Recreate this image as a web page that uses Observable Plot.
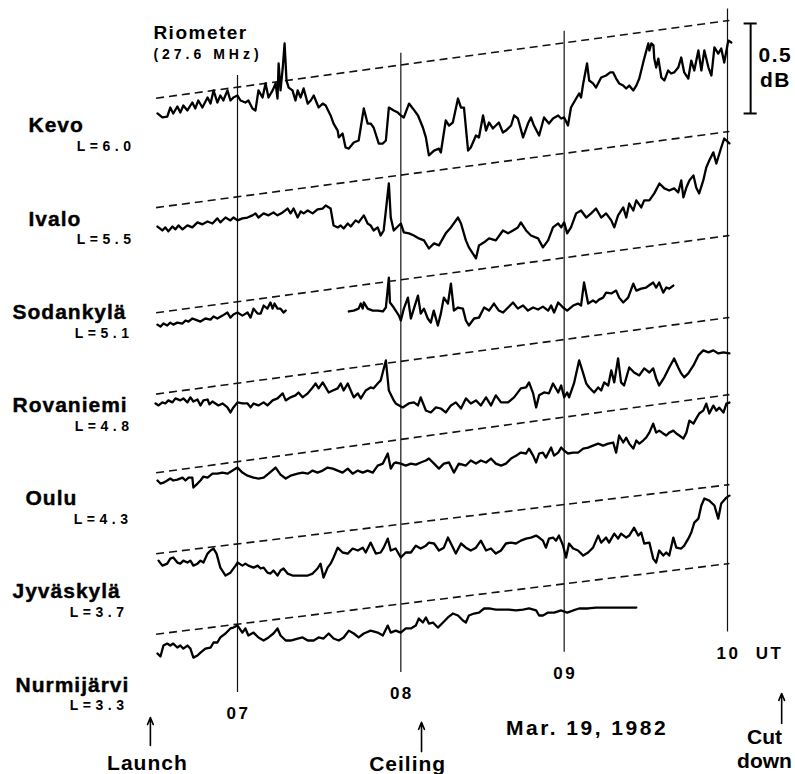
<!DOCTYPE html>
<html>
<head>
<meta charset="utf-8">
<script src="https://cdn.jsdelivr.net/npm/d3@7"></script>
<script src="https://cdn.jsdelivr.net/npm/@observablehq/plot@0.6"></script>
<style>
  html, body { margin: 0; padding: 0; background: #fff; }
  #chart svg { display: block; }
</style>
</head>
<body>
<div id="chart"></div>
<script>
// ================= DATA =================
// time: minutes after 06:00 UT ; value: dB, relative to the station's reference
// level at the start of the record (positive = downward on the chart)
const stations = ["Kevo", "Ivalo", "Sodankylä", "Rovaniemi", "Oulu", "Jyväskylä", "Nurmijärvi"];
const lShells = ["6.0", "5.5", "5.1", "4.8", "4.3", "3.7", "3.3"];

// quiet-day reference (dashed): spans these times, falls by quietDrop dB
const quietSpan = [30.6, 240.7];
const quietDrop = [-0.431, -0.422, -0.428, -0.425, -0.433, -0.383, -0.392];

const hourTicks = [60, 120, 180, 240];
const hourLabels = ["07", "08", "09", "10"];

const kevo = [
[30.6,0.086],[32.4,0.108],[34.2,0.103],[35.3,0.053],[36.4,0.086],[37.9,0.047],[39.0,0.081],[40.1,0.042],[41.6,0.069],[43.4,0.025],[44.5,0.058],[45.6,0.014],[47.1,0.053],[49.0,-0.003],[50.1,0.031],[51.2,-0.042],[52.6,0.025],[53.7,-0.014],[54.8,0.014],[56.3,-0.042],[57.4,0.014],[58.5,-0.003],[60.0,-0.014],[61.1,0.014],[62.9,0.025],[64.0,0.014],[65.5,0.058],[66.6,0.069],[67.7,-0.042],[69.2,-0.003],[70.3,-0.081],[71.4,-0.003],[72.9,-0.042],[74.0,-0.081],[74.7,0.003],[75.1,-0.192],[75.8,-0.042],[76.6,-0.164],[77.3,-0.303],[78.0,-0.097],[78.8,-0.058],[80.2,-0.042],[81.3,0.014],[82.1,-0.042],[83.2,-0.003],[84.3,-0.053],[85.8,0.031],[86.9,0.014],[88.0,-0.014],[89.8,0.053],[91.3,0.031],[92.4,0.042],[94.2,0.097],[95.3,0.142],[96.8,0.181],[97.2,0.219],[98.6,0.197],[99.7,0.275],[100.9,0.281],[102.7,0.247],[104.5,0.236],[106.4,0.058],[107.8,0.142],[108.9,0.142],[110.0,0.164],[111.9,0.253],[113.4,0.253],[114.5,0.236],[115.6,0.053],[117.4,0.069],[118.9,0.081],[120.0,0.097],[121.1,0.108],[123.0,0.031],[124.4,0.058],[126.3,0.097],[128.1,0.164],[129.2,0.219],[130.3,0.319],[132.2,0.292],[134.0,0.281],[134.7,0.303],[136.5,0.125],[137.7,0.153],[139.1,0.136],[141.0,0.003],[142.1,0.053],[143.2,0.053],[144.7,0.292],[145.7,0.275],[147.6,0.208],[148.7,0.219],[150.2,0.097],[151.3,0.181],[152.4,0.136],[153.8,0.169],[154.9,0.153],[156.0,0.136],[157.5,0.192],[158.6,0.181],[160.5,0.153],[161.6,0.097],[163.0,0.114],[164.9,0.219],[166.7,0.142],[167.8,0.108],[168.9,0.153],[170.8,0.208],[172.6,0.108],[174.4,0.142],[175.9,0.114],[177.8,0.097],[178.9,0.114],[180.0,0.108],[181.4,0.153],[182.5,0.053],[184.4,0.003],[185.5,-0.025],[186.2,-0.003],[187.0,-0.081],[188.4,-0.192],[189.2,-0.097],[190.6,-0.081],[191.7,-0.058],[193.6,-0.114],[195.4,-0.125],[196.9,-0.142],[198.0,-0.142],[199.1,-0.108],[200.2,-0.081],[201.7,-0.069],[202.8,-0.053],[203.9,-0.069],[205.4,-0.042],[206.5,-0.069],[207.6,-0.108],[209.4,-0.219],[210.9,-0.303],[211.3,-0.264],[212.0,-0.303],[212.8,-0.292],[213.1,-0.219],[213.8,-0.169],[214.6,-0.219],[215.7,-0.114],[216.8,-0.097],[218.2,-0.153],[219.3,-0.136],[220.4,-0.142],[221.9,-0.169],[223.0,-0.225],[224.1,-0.142],[225.6,-0.108],[226.7,-0.208],[227.8,-0.153],[229.3,-0.264],[230.4,-0.153],[231.5,-0.264],[233.0,-0.169],[234.1,-0.125],[235.2,-0.281],[236.6,-0.247],[237.7,-0.275],[238.8,-0.197],[240.3,-0.319],[241.4,-0.308]
];

const ivalo = [
[30.6,0.106],[32.4,0.128],[33.5,0.111],[34.6,0.133],[36.1,0.106],[37.2,0.122],[38.3,0.100],[39.8,0.122],[41.6,0.100],[43.4,0.111],[45.3,0.083],[47.1,0.094],[49.0,0.078],[50.8,0.089],[52.6,0.061],[53.7,0.083],[55.6,0.056],[57.4,0.072],[58.5,0.056],[60.0,0.072],[61.8,0.061],[63.7,0.056],[65.5,0.044],[66.6,0.033],[67.7,0.056],[69.6,0.033],[71.4,0.044],[73.2,0.028],[74.7,0.044],[76.6,0.028],[78.4,0.006],[79.5,0.033],[80.6,0.006],[82.1,0.056],[83.2,0.022],[84.3,0.033],[85.8,0.017],[87.6,0.033],[89.4,0.011],[91.3,0.006],[92.4,-0.011],[94.2,0.006],[95.3,0.100],[96.8,0.111],[97.9,0.100],[99.0,0.117],[100.5,0.089],[101.6,0.106],[103.4,0.072],[104.5,0.083],[106.4,0.044],[107.8,0.089],[108.9,0.100],[110.0,0.128],[111.5,0.111],[112.6,0.156],[113.7,0.128],[115.6,-0.133],[116.3,0.056],[117.4,0.128],[120.0,0.089],[121.1,0.139],[123.0,0.144],[124.8,0.156],[126.6,0.172],[128.5,0.183],[130.3,0.228],[132.2,0.200],[134.0,0.211],[136.5,0.144],[138.4,0.111],[141.0,0.056],[142.1,0.089],[143.9,0.183],[145.0,0.222],[147.6,0.283],[148.7,0.211],[150.6,0.194],[152.4,0.172],[154.9,0.183],[157.5,0.128],[159.4,0.144],[161.2,0.128],[163.0,0.111],[164.1,0.083],[166.0,0.128],[167.8,0.156],[170.4,0.172],[172.2,0.222],[174.1,0.183],[175.9,0.111],[177.8,0.089],[178.9,0.111],[180.0,0.083],[181.1,0.144],[182.5,0.111],[184.4,0.033],[186.2,0.017],[188.1,0.056],[189.9,0.033],[191.7,0.006],[193.6,0.056],[195.4,0.033],[197.3,0.072],[198.4,0.111],[199.8,0.044],[201.7,0.000],[202.8,0.056],[203.9,-0.022],[205.4,0.017],[206.5,-0.039],[208.3,0.000],[209.4,-0.039],[211.3,-0.039],[213.1,-0.078],[215.0,-0.133],[216.8,-0.106],[218.6,-0.094],[220.4,-0.106],[221.9,-0.083],[223.0,-0.150],[223.8,-0.056],[224.9,-0.111],[226.0,-0.150],[227.5,-0.178],[228.5,-0.111],[229.6,-0.078],[231.1,-0.150],[232.2,-0.222],[233.3,-0.261],[234.8,-0.306],[235.9,-0.244],[237.7,-0.333],[238.8,-0.383],[240.7,-0.356]
];

const sodankyla = [
[30.6,0.067],[31.7,0.078],[32.8,0.061],[34.2,0.072],[35.3,0.056],[36.4,0.067],[37.9,0.056],[39.8,0.061],[40.9,0.044],[42.0,0.050],[43.4,0.033],[44.5,0.039],[46.4,0.050],[48.2,0.033],[50.1,0.039],[51.2,0.022],[52.6,0.033],[54.5,0.017],[56.3,0.000],[57.4,0.028],[58.5,0.011],[60.0,0.000],[61.8,0.017],[63.7,0.000],[64.8,0.028],[65.9,-0.022],[67.4,0.006],[68.5,0.006],[69.6,-0.039],[71.0,-0.022],[72.1,-0.056],[72.9,-0.022],[73.6,-0.050],[74.7,-0.022],[75.8,-0.022],[76.9,0.000],[77.7,-0.011],
[89.0,null],
[100.9,-0.006],[102.7,-0.011],[104.5,-0.022],[105.3,-0.050],[106.0,-0.022],[106.4,-0.056],[107.8,-0.022],[109.7,-0.011],[111.5,-0.011],[113.4,-0.006],[114.5,-0.028],[115.6,-0.194],[116.0,-0.056],[117.4,-0.028],[119.3,0.017],[120.0,0.044],[121.1,-0.022],[122.6,-0.083],[123.7,0.033],[124.8,-0.022],[126.3,-0.094],[127.3,0.006],[128.5,-0.022],[129.9,0.033],[131.0,0.056],[132.1,-0.011],[133.6,0.072],[134.7,0.006],[135.8,-0.083],[137.3,-0.050],[138.4,-0.161],[139.5,-0.011],[141.0,-0.028],[142.8,-0.022],[143.9,0.044],[145.0,0.072],[146.9,0.033],[148.7,0.028],[150.6,-0.028],[152.4,-0.011],[154.2,-0.050],[156.0,-0.011],[157.5,0.000],[159.4,-0.028],[161.2,-0.056],[163.0,-0.022],[164.9,-0.039],[166.7,-0.011],[168.6,-0.028],[170.4,-0.017],[172.2,-0.033],[174.1,-0.011],[175.2,-0.039],[176.3,0.000],[177.8,-0.056],[179.6,-0.028],[181.1,-0.011],[183.3,-0.039],[185.1,-0.050],[186.2,-0.039],[187.3,-0.167],[188.8,-0.050],[190.6,-0.067],[191.7,-0.056],[192.8,-0.072],[194.3,-0.083],[195.4,-0.111],[197.3,-0.106],[199.1,-0.122],[200.2,-0.083],[201.7,-0.056],[203.5,-0.083],[205.4,-0.161],[206.5,-0.122],[208.3,-0.133],[210.1,-0.139],[212.7,-0.167],[213.8,-0.139],[214.9,-0.167],[216.4,-0.111],[217.5,-0.139],[218.6,-0.133],[220.1,-0.150]
];

const rovaniemi = [
[29.9,0.053],[31.0,0.064],[32.4,0.047],[33.5,0.053],[34.6,0.036],[36.1,0.047],[37.2,0.025],[39.0,0.036],[40.1,0.025],[41.6,0.047],[42.7,0.019],[43.8,0.042],[45.3,0.031],[46.4,0.064],[47.5,0.036],[49.0,0.031],[49.7,0.058],[50.8,0.042],[51.9,0.053],[53.0,0.064],[54.5,0.053],[56.3,0.075],[57.4,0.103],[58.5,0.075],[60.0,0.047],[61.8,0.053],[63.7,0.053],[64.8,0.075],[65.9,0.053],[67.7,0.064],[69.6,0.047],[71.0,0.064],[72.9,0.036],[74.7,0.025],[76.6,-0.003],[77.7,0.036],[79.5,0.019],[81.3,0.008],[82.4,-0.008],[83.9,0.019],[85.8,-0.003],[87.6,-0.036],[88.7,-0.058],[89.8,-0.031],[91.3,-0.064],[92.4,-0.036],[93.5,-0.008],[95.0,-0.019],[96.8,-0.031],[97.9,-0.058],[99.0,-0.019],[100.5,-0.058],[101.6,-0.019],[102.7,0.019],[104.2,-0.003],[105.3,0.025],[107.1,-0.019],[108.9,-0.036],[110.0,-0.031],[111.5,-0.058],[112.6,-0.075],[114.5,-0.186],[115.6,-0.019],[117.4,0.036],[118.1,0.053],[120.7,0.075],[122.9,0.053],[124.8,0.047],[126.3,0.064],[127.3,0.019],[129.2,0.092],[131.0,0.103],[132.9,0.075],[134.7,0.081],[136.5,0.103],[138.4,0.064],[140.2,0.047],[142.1,0.081],[143.9,0.025],[145.7,0.053],[147.6,0.036],[149.4,0.064],[151.3,0.019],[153.1,0.064],[154.9,0.008],[156.8,0.047],[159.4,0.047],[161.6,0.019],[164.1,-0.031],[166.0,-0.036],[167.1,-0.064],[168.6,-0.003],[169.7,0.075],[170.8,0.008],[172.6,-0.008],[174.4,-0.003],[175.9,-0.058],[177.8,-0.008],[178.9,-0.047],[180.0,0.019],[181.1,-0.008],[181.8,0.019],[183.6,-0.058],[185.5,-0.186],[187.0,-0.114],[188.1,-0.058],[189.2,-0.036],[191.0,-0.008],[192.5,-0.036],[193.6,-0.019],[194.7,-0.064],[196.2,-0.047],[197.3,-0.131],[198.4,-0.064],[199.8,-0.197],[200.9,-0.064],[202.0,-0.047],[203.9,-0.147],[205.7,-0.119],[207.6,-0.103],[209.4,-0.142],[211.3,-0.119],[212.7,-0.142],[213.8,-0.086],[214.9,-0.047],[216.8,-0.092],[218.6,-0.147],[220.4,-0.197],[221.9,-0.147],[223.0,-0.114],[224.1,-0.092],[225.6,-0.114],[227.5,-0.158],[229.3,-0.214],[231.1,-0.242],[233.0,-0.231],[234.8,-0.242],[236.6,-0.225],[238.5,-0.231],[240.7,-0.225]
];

const oulu = [
[30.6,0.044],[31.7,0.061],[32.8,0.056],[34.2,0.044],[35.3,0.033],[36.4,0.044],[37.9,0.039],[39.8,0.028],[40.9,0.044],[42.0,0.028],[43.4,0.028],[43.8,0.083],[45.3,0.061],[46.4,0.044],[47.5,0.022],[49.0,0.028],[50.8,0.006],[52.6,0.006],[54.5,0.000],[56.3,0.006],[58.2,-0.011],[60.0,-0.028],[61.8,0.000],[63.7,0.017],[65.9,0.028],[67.7,0.033],[69.6,0.028],[71.4,0.006],[74.0,-0.028],[75.8,0.011],[77.7,0.033],[79.5,0.017],[82.1,0.006],[83.9,0.000],[85.8,0.006],[87.6,-0.011],[89.4,0.000],[91.3,-0.011],[93.1,-0.028],[95.0,-0.022],[96.8,-0.011],[98.6,0.000],[100.5,-0.022],[102.3,0.006],[104.2,-0.011],[106.0,0.000],[107.8,-0.011],[109.7,0.000],[111.5,-0.039],[113.4,-0.050],[115.2,-0.106],[116.3,-0.022],[117.4,-0.050],[118.1,-0.056],[120.0,-0.050],[121.8,-0.039],[123.7,-0.050],[125.5,-0.044],[127.3,-0.056],[129.2,-0.067],[130.3,-0.078],[132.2,-0.050],[134.0,-0.022],[135.8,-0.050],[137.7,-0.056],[139.5,0.000],[141.3,-0.050],[143.9,-0.039],[145.7,-0.067],[147.6,-0.050],[149.4,-0.067],[151.3,-0.056],[153.1,-0.078],[154.9,-0.050],[156.8,-0.039],[158.6,-0.050],[160.5,-0.078],[162.3,-0.094],[164.1,-0.111],[166.0,-0.106],[167.1,-0.133],[168.6,-0.094],[169.7,-0.056],[170.8,-0.106],[172.2,-0.111],[173.3,-0.083],[175.2,-0.139],[176.3,-0.094],[177.8,-0.111],[178.9,-0.139],[180.0,-0.122],[181.4,-0.106],[183.3,-0.111],[185.1,-0.111],[187.0,-0.133],[188.8,-0.139],[190.6,-0.150],[192.5,-0.161],[194.3,-0.150],[196.2,-0.161],[198.0,-0.167],[199.1,-0.111],[200.2,-0.206],[201.7,-0.167],[202.8,-0.194],[203.9,-0.161],[205.4,-0.133],[206.5,-0.178],[207.6,-0.161],[209.0,-0.178],[210.1,-0.194],[211.3,-0.222],[212.7,-0.272],[213.8,-0.222],[214.9,-0.233],[216.4,-0.217],[217.5,-0.206],[218.6,-0.222],[220.1,-0.233],[221.2,-0.217],[222.3,-0.206],[223.8,-0.189],[224.9,-0.222],[226.0,-0.289],[227.5,-0.272],[228.5,-0.300],[229.6,-0.328],[231.1,-0.344],[232.2,-0.383],[233.3,-0.328],[234.8,-0.372],[235.9,-0.344],[237.0,-0.361],[238.5,-0.333],[239.6,-0.383],[240.7,-0.389]
];

const jyvaskyla = [
[31.0,0.039],[32.4,0.067],[34.2,0.056],[35.3,0.028],[36.4,0.022],[37.9,0.050],[39.0,0.056],[40.1,0.039],[41.6,0.050],[42.7,0.039],[43.8,0.067],[45.3,0.056],[46.4,0.039],[47.5,0.050],[49.0,0.000],[50.1,-0.017],[51.2,-0.028],[52.3,0.000],[53.7,0.078],[55.6,0.122],[57.4,0.106],[59.3,0.067],[60.0,0.050],[61.8,0.067],[62.9,0.056],[64.0,0.067],[65.9,0.078],[67.4,0.067],[68.5,0.083],[69.6,0.078],[71.0,0.106],[72.1,0.111],[73.2,0.094],[74.7,0.122],[75.8,0.094],[76.9,0.083],[78.4,0.111],[80.2,0.122],[82.1,0.122],[83.9,0.122],[85.8,0.122],[87.6,0.111],[89.4,0.083],[90.5,0.056],[91.6,0.133],[93.1,0.078],[94.2,0.056],[95.3,0.022],[96.8,-0.033],[98.6,-0.006],[100.5,0.000],[102.3,-0.028],[104.2,-0.017],[106.0,-0.033],[107.1,-0.006],[108.9,-0.061],[110.8,0.000],[112.6,-0.006],[113.7,-0.033],[115.2,-0.083],[116.3,-0.017],[118.1,-0.028],[120.0,0.022],[121.8,-0.006],[123.7,-0.006],[125.5,-0.044],[127.3,-0.028],[129.2,-0.044],[130.3,-0.061],[132.2,-0.056],[134.0,-0.017],[135.8,-0.033],[137.3,-0.089],[138.4,-0.056],[140.2,0.000],[142.1,-0.056],[143.9,-0.033],[145.7,-0.017],[147.6,-0.033],[149.4,-0.072],[151.3,-0.017],[153.1,-0.028],[154.9,0.000],[156.8,-0.017],[158.6,-0.056],[160.5,-0.061],[162.3,-0.056],[164.1,-0.072],[166.0,-0.083],[167.8,-0.089],[169.7,-0.100],[170.8,-0.089],[172.2,-0.072],[173.3,-0.033],[174.4,-0.083],[175.9,-0.089],[177.0,-0.072],[178.1,-0.100],[179.6,-0.044],[180.7,0.022],[181.8,-0.056],[183.3,-0.028],[185.1,-0.017],[187.0,0.011],[188.8,-0.006],[190.6,-0.033],[192.5,-0.100],[193.6,-0.061],[195.4,-0.089],[196.5,-0.061],[198.4,-0.111],[199.8,-0.083],[200.9,-0.111],[202.8,-0.089],[203.9,-0.100],[205.7,-0.144],[207.2,-0.100],[208.3,-0.117],[209.4,-0.056],[211.3,-0.061],[212.7,0.028],[213.8,0.050],[214.9,-0.017],[216.4,0.011],[217.5,-0.006],[218.6,0.011],[220.1,-0.089],[221.2,-0.033],[223.0,-0.028],[224.1,-0.044],[225.6,-0.083],[226.7,-0.117],[227.8,-0.172],[229.3,-0.194],[230.4,-0.267],[231.5,-0.306],[233.3,-0.294],[235.2,-0.267],[236.6,-0.194],[237.7,-0.278],[239.6,-0.311],[240.7,-0.322]
];

const nurmijarvi = [
[30.6,0.108],[31.7,0.125],[32.8,0.064],[34.2,0.053],[35.3,0.064],[36.4,0.053],[37.9,0.075],[39.0,0.064],[40.1,0.081],[41.6,0.064],[42.7,0.081],[43.8,0.131],[45.3,0.119],[46.4,0.103],[48.2,0.081],[50.1,0.075],[51.2,0.047],[52.6,0.047],[53.7,0.019],[55.6,-0.003],[57.4,-0.031],[58.5,-0.036],[60.0,-0.047],[61.8,-0.008],[62.9,-0.031],[64.0,0.008],[65.9,-0.008],[67.7,0.019],[69.6,0.036],[71.4,0.019],[73.2,-0.003],[74.7,-0.031],[75.8,0.008],[77.7,0.036],[79.5,0.036],[82.1,0.025],[83.9,0.019],[85.8,0.036],[88.0,0.036],[89.8,0.019],[91.6,0.025],[93.5,-0.003],[95.3,0.025],[97.2,0.036],[99.0,0.019],[100.9,-0.019],[102.7,-0.003],[104.5,0.019],[106.4,-0.003],[108.9,-0.019],[111.5,-0.008],[113.4,0.008],[115.2,-0.047],[116.3,-0.008],[118.1,-0.019],[120.0,-0.008],[121.8,-0.031],[123.7,-0.031],[125.5,-0.047],[126.6,-0.086],[128.1,-0.064],[129.2,-0.092],[130.3,-0.058],[131.8,-0.064],[133.6,-0.036],[135.5,-0.064],[137.3,-0.092],[139.1,-0.114],[141.0,-0.103],[142.8,-0.075],[143.9,-0.064],[145.0,-0.103],[146.9,-0.114],[148.7,-0.119],[150.6,-0.142],[152.4,-0.142],[154.9,-0.136],[157.5,-0.136],[159.7,-0.136],[162.3,-0.131],[164.9,-0.136],[167.1,-0.142],[169.7,-0.131],[170.8,-0.103],[172.2,-0.103],[174.1,-0.119],[176.3,-0.119],[178.9,-0.131],[181.1,-0.119],[183.3,-0.131],[185.5,-0.142],[188.8,-0.142],[191.7,-0.147],[194.7,-0.147],[198.0,-0.147],[200.9,-0.147],[203.9,-0.147],[206.5,-0.147]
];

const traces = [kevo, ivalo, sodankyla, rovaniemi, oulu, jyvaskyla, nurmijarvi];

// event markers (UT minutes after 06:00)
const eventNames = ["Launch", "Ceiling", "Cut\ndown"];
const eventTimes = [28.0, 127.6, 259.9];

// ================= LAYOUT (not data) =================
const stackOffset = [0, 0.608, 1.192, 1.644, 2.081, 2.531, 2.978]; // dB between station references
const quiet = (k, t) => stackOffset[k] + quietDrop[k] * (t - quietSpan[0]) / (quietSpan[1] - quietSpan[0]);
const lineTop = t => quiet(0, t) - 0.065;
const lineBottom = t => quiet(6, t) + 0.38;
const nameY = i => 0.153 + 0.518 * i;
const nameDx = [28, 28, 12, 12, 25, 12, 15];
const lDx = [135, 135, 133, 133, 132, 128, 128];
const eventLayout = [
  {tip: 3.442, tail: 3.597, labelT: 26.9, labelY: 3.689},
  {tip: 3.469, tail: 3.631, labelT: 122.5, labelY: 3.694},
  {tip: 3.308, tail: 3.475, labelT: 253.6, labelY: 3.611}
];
const FONT = "'Liberation Sans', Arial, Helvetica, sans-serif";

const quietRows = stations.map((s, k) => ({k}));
const hourRows = hourTicks.map((t, i) => ({t, label: hourLabels[i]}));
const eventRows = eventNames.map((label, i) => ({label, t: eventTimes[i], ...eventLayout[i]}));

const marks = [];

// dashed quiet-day lines
marks.push(Plot.link(quietRows, {
  x1: () => quietSpan[0] - 0.5, x2: () => quietSpan[1],
  y1: d => quiet(d.k, quietSpan[0] - 0.5), y2: d => quiet(d.k, quietSpan[1]),
  stroke: "#111", strokeWidth: 1.6, strokeDasharray: "8,5"
}));

// hour lines (follow the skew of the record)
marks.push(Plot.ruleX(hourRows, {
  x: "t", y1: d => lineTop(d.t), y2: d => lineBottom(d.t),
  stroke: "#111", strokeWidth: 1.2
}));

// traces
traces.forEach((arr, k) => {
  marks.push(Plot.line(arr, {
    x: d => d[0],
    y: d => d[1] == null ? NaN : stackOffset[k] + d[1],
    stroke: "#000", strokeWidth: 2.3, strokeLinejoin: "round", strokeLinecap: "round"
  }));
});

// station names and L values
stations.forEach((s, i) => {
  marks.push(Plot.text([{s, i}], {
    frameAnchor: "left", y: d => nameY(d.i), text: d => d.s, dx: nameDx[i],
    textAnchor: "start", lineAnchor: "middle", fontSize: 21, fontWeight: "bold",
    fill: "#000", stroke: "#000", strokeWidth: 0.4
  }));
  marks.push(Plot.text([{i}], {
    frameAnchor: "left", y: d => nameY(d.i), text: d => "L=" + lShells[d.i], dx: lDx[i], dy: 21,
    textAnchor: "end", lineAnchor: "middle", fontSize: 14, fontWeight: "bold", fill: "#000"
  }));
});

// hour labels
marks.push(Plot.text(hourRows, {
  x: "t", y: d => lineBottom(d.t), text: "label", dy: 21, dx: 1,
  lineAnchor: "middle", fontSize: 17, fontWeight: "bold", fill: "#000"
}));
marks.push(Plot.text([{t: 240}], {
  x: "t", y: d => lineBottom(d.t), text: () => "UT", dy: 21, dx: 42,
  lineAnchor: "middle", fontSize: 17, fontWeight: "bold", fill: "#000"
}));

// title
marks.push(Plot.text([{t: 29.1, y: -0.364}], {
  x: "t", y: "y", text: () => "Riometer", textAnchor: "start", lineAnchor: "middle",
  fontSize: 19, fontWeight: "bold", fill: "#000"
}));
marks.push(Plot.text([{t: 29.1, y: -0.242}], {
  x: "t", y: "y", text: () => "(27.6 MHz)", textAnchor: "start", lineAnchor: "middle",
  fontSize: 14, fontWeight: "bold", fill: "#000"
}));

// 0.5 dB scale bar
const bar = {t: 248.5, y1: -0.414, y2: -0.414 + 0.5, cap: 2.4};
marks.push(Plot.ruleX([bar], {x: "t", y1: "y1", y2: "y2", stroke: "#000", strokeWidth: 2}));
marks.push(Plot.ruleY([bar.y1, bar.y2], {y: d => d, x1: () => bar.t - bar.cap, x2: () => bar.t + bar.cap, stroke: "#000", strokeWidth: 2}));
marks.push(Plot.text([{t: 257.6, y: -0.236, s: "0.5"}, {t: 257.6, y: -0.097, s: "dB"}], {
  x: "t", y: "y", text: "s", lineAnchor: "middle", fontSize: 21, fontWeight: "bold", fill: "#000"
}));

// date
marks.push(Plot.text([{t: 188.4, y: 3.5}], {
  x: "t", y: "y", text: () => "Mar. 19, 1982", lineAnchor: "middle",
  fontSize: 21, fontWeight: "bold", fill: "#000"
}));

// event arrows and labels
marks.push(Plot.arrow(eventRows, {
  x1: "t", x2: "t", y1: "tail", y2: "tip", stroke: "#000", strokeWidth: 1.6,
  headLength: 7, headAngle: 45
}));
marks.push(Plot.text(eventRows, {
  x: "labelT", y: "labelY", text: "label", lineAnchor: "middle", lineHeight: 1.15,
  fontSize: 21, fontWeight: "bold", fill: "#000"
}));

const chart = Plot.plot({
  width: 795,
  height: 774,
  margin: 0,
  style: {background: "#fff", fontFamily: FONT, overflow: "visible"},
  x: {type: "linear", domain: [60, 240], range: [237, 727], axis: null},
  y: {type: "linear", domain: [-97.5 / 180, (774 - 97.5) / 180], range: [0, 774], axis: null},
  marks
});

// letter spacing of the typewritten-style labels
const spacing = s => {
  if (stations.includes(s)) return 1;
  if (s.startsWith("L=")) return 4.5;
  if (hourLabels.includes(s) || s === "UT") return 2.5;
  if (s === "Riometer") return 1.5;
  if (s.startsWith("(27.6")) return 4;
  if (s.startsWith("Mar.")) return 2.5;
  if (s === "0.5" || s === "dB") return 1.5;
  if (s.startsWith("Cut")) return 0;
  return 1;
};
chart.querySelectorAll("text").forEach(el => {
  const s = el.textContent;
  el.style.letterSpacing = spacing(s) + "px";
});
document.getElementById("chart").append(chart);
</script>
</body>
</html>
